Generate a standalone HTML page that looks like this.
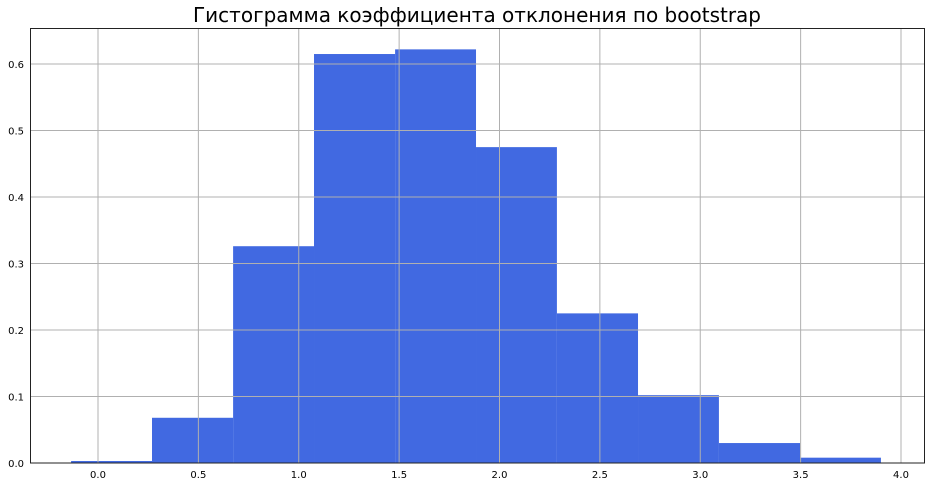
<!DOCTYPE html>
<html><head><meta charset="utf-8">
<style>body{margin:0;background:#fff;}svg{display:block;font-family:"DejaVu Sans","Liberation Sans",sans-serif;}</style>
</head><body>
<svg id="chart" width="930" height="487" viewBox="0 0 930 487">
<text x="477" y="22" font-size="20" text-anchor="middle" fill="#000">Гистограмма коэффициента отклонения по bootstrap</text>
<g id="bars"></g><g id="grid"></g><g id="ticks"></g>
<rect x="30.5" y="28.5" width="894" height="434.5" fill="none" stroke="#222" stroke-width="1"/>
</svg>
<script>
const binEdges = [-0.134, 0.269, 0.673, 1.076, 1.48, 1.883, 2.286, 2.69, 3.093, 3.497, 3.9];
const densities = [0.003, 0.068, 0.326, 0.615, 0.622, 0.475, 0.225, 0.102, 0.030, 0.008];
const xTicks = [0.0, 0.5, 1.0, 1.5, 2.0, 2.5, 3.0, 3.5, 4.0];
const yTicks = [0.0, 0.1, 0.2, 0.3, 0.4, 0.5, 0.6];
const NS = "http://www.w3.org/2000/svg";
const X = v => 98 + v * 200.75;
const Y = v => 463 - v * 665;
function mk(tag, attrs, parent){const e=document.createElementNS(NS,tag);for(const k in attrs)e.setAttribute(k,attrs[k]);parent.appendChild(e);return e;}
const bars=document.getElementById('bars'),grid=document.getElementById('grid'),ticks=document.getElementById('ticks');
densities.forEach((d,i)=>{
  const r=mk('rect',{x:X(binEdges[i]),y:Y(d),width:X(binEdges[i+1])-X(binEdges[i]),height:Y(0)-Y(d),fill:'#4169e1'},bars);
  
  
});
xTicks.forEach(t=>{
  const l=mk('line',{x1:X(t),x2:X(t),y1:28,y2:463,stroke:'#b0b0b0','stroke-width':1},grid);
  
  
  const tx=mk('text',{x:X(t),y:478,'font-size':10,'text-anchor':'middle',fill:'#000'},ticks);
  tx.textContent=t.toFixed(1);
  
  
});
yTicks.forEach(t=>{
  const l=mk('line',{x1:30,x2:924,y1:Y(t),y2:Y(t),stroke:'#b0b0b0','stroke-width':1},grid);
  
  
  const tx=mk('text',{x:24,y:Y(t)+4,'font-size':10,'text-anchor':'end',fill:'#000'},ticks);
  tx.textContent=t.toFixed(1);
  
  
});
</script>
</body></html>
